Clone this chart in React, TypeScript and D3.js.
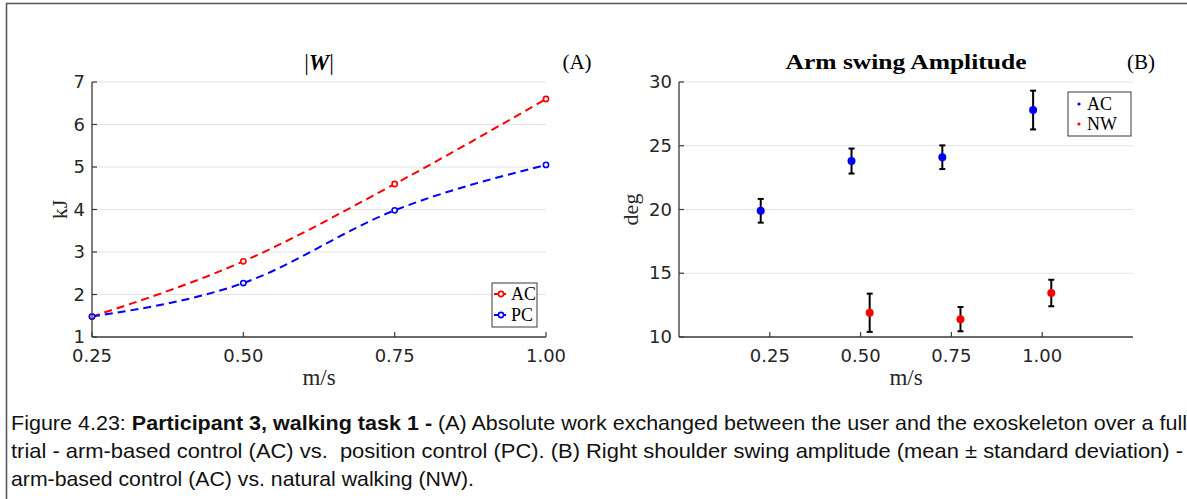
import React from "react";
import * as d3 from "d3";

// Walking speeds (m/s)
const speeds = [0.25, 0.5, 0.75, 1.0];
// Absolute work exchanged |W| (kJ)
const workAC = [1.48, 2.78, 4.6, 6.6];
const workPC = [1.48, 2.27, 3.98, 5.05];

// Arm swing amplitude (deg), mean and standard deviation
const swingACSpeeds = [0.25, 0.5, 0.75, 1.0];
const swingACMean = [19.9, 23.8, 24.1, 27.8];
const swingACSd = [0.93, 0.98, 0.93, 1.52];
const swingNWSpeeds = [0.5, 0.75, 1.0];
const swingNWMean = [11.9, 11.4, 13.45];
const swingNWSd = [1.5, 0.95, 1.04];

const workTicks = [1, 2, 3, 4, 5, 6, 7];
const swingTicks = [10, 15, 20, 25, 30];
const speedTickLabels = ["0.25", "0.50", "0.75", "1.00"];

const captionLines = [
  "trial - arm-based control (AC) vs.\u00a0 position control (PC). (B) Right shoulder swing amplitude (mean \u00b1 standard deviation) -",
  "arm-based control (AC) vs. natural walking (NW).",
];

const TICK_FONT = "DejaVu Sans, sans-serif";
const SERIF = "Liberation Serif, DejaVu Serif, serif";
const AXIS = "#3a3a3a";
const GRID = "#e3e3e3";
const TEXT = "#262626";

const top = 82;
const bottom = 337;

function WorkPanel() {
  const x = d3.scaleLinear().domain([0.25, 1.0]).range([92, 546]);
  const y = d3.scaleLinear().domain([1, 7]).range([bottom, top]);
  const line = d3
    .line<number>()
    .x((_, i) => x(speeds[i]))
    .y((d) => y(d))
    .curve(d3.curveMonotoneX);
  const series = [
    { name: "AC", values: workAC, color: "#ff0000" },
    { name: "PC", values: workPC, color: "#0000ff" },
  ];
  const [x0, x1] = x.range();
  return (
    <g>
      {workTicks.slice(1).map((t) => (
        <line key={t} x1={x0} x2={x1} y1={y(t)} y2={y(t)} stroke={GRID} strokeWidth={1} />
      ))}
      {series.map((s) => (
        <g key={s.name}>
          <path d={line(s.values) || ""} fill="none" stroke={s.color} strokeWidth={2} strokeDasharray="8,5" />
          {s.values.map((v, i) => (
            <circle key={i} cx={x(speeds[i])} cy={y(v)} r={2.6} fill="#fff" stroke={s.color} strokeWidth={1.6} />
          ))}
        </g>
      ))}
      <line x1={x0} x2={x0} y1={top} y2={bottom} stroke={AXIS} strokeWidth={1.3} />
      <line x1={x0} x2={x1} y1={bottom} y2={bottom} stroke={AXIS} strokeWidth={1.3} />
      {workTicks.map((t) => (
        <g key={t}>
          <line x1={x0} x2={x0 + 5} y1={y(t)} y2={y(t)} stroke={AXIS} strokeWidth={1.2} />
          <text x={x0 - 7} y={y(t) + 6} textAnchor="end" fontFamily={TICK_FONT} fontSize={18} fill={TEXT}>
            {t}
          </text>
        </g>
      ))}
      {speeds.map((s, i) => (
        <g key={s}>
          <line x1={x(s)} x2={x(s)} y1={bottom} y2={bottom - 5} stroke={AXIS} strokeWidth={1.2} />
          <text x={x(s)} y={bottom + 25} textAnchor="middle" fontFamily={TICK_FONT} fontSize={18} fill={TEXT}>
            {speedTickLabels[i]}
          </text>
        </g>
      ))}
      <text x={(x0 + x1) / 2} y={bottom + 48} textAnchor="middle" fontFamily={SERIF} fontSize={23} fill={TEXT}>
        m/s
      </text>
      <text
        transform={`translate(67,${(top + bottom) / 2}) rotate(-90)`}
        textAnchor="middle"
        fontFamily={SERIF}
        fontSize={22}
        fill={TEXT}
      >
        kJ
      </text>
      <text x={(x0 + x1) / 2} y={70} textAnchor="middle" fontFamily={SERIF} fontSize={23} fill="#000">
        |<tspan fontWeight="bold" fontStyle="italic">W</tspan>|
      </text>
      <text x={577} y={69} textAnchor="middle" fontFamily={SERIF} fontSize={21} fill="#000">
        (A)
      </text>
      {/* legend */}
      <rect x={492} y={283} width={45} height={44} fill="#fff" stroke="#3a3a3a" strokeWidth={1} />
      {series.map((s, i) => (
        <g key={s.name}>
          <line x1={494} x2={506} y1={294 + i * 21} y2={294 + i * 21} stroke={s.color} strokeWidth={2} />
          <circle cx={501} cy={294 + i * 21} r={2.6} fill="#fff" stroke={s.color} strokeWidth={1.6} />
          <text x={511} y={294 + i * 21 + 6} fontFamily={SERIF} fontSize={18} fill="#000">
            {s.name}
          </text>
        </g>
      ))}
    </g>
  );
}

function SwingPanel() {
  const x = d3.scaleLinear().domain([0, 1.25]).range([679, 1133]);
  const y = d3.scaleLinear().domain([10, 30]).range([bottom, top]);
  const [x0, x1] = x.range();
  const groups = [
    { name: "AC", sp: swingACSpeeds, mean: swingACMean, sd: swingACSd, color: "#0000ff", off: -0.025 },
    { name: "NW", sp: swingNWSpeeds, mean: swingNWMean, sd: swingNWSd, color: "#ff0000", off: 0.025 },
  ];
  return (
    <g>
      {swingTicks.slice(1).map((t) => (
        <line key={t} x1={x0} x2={x1} y1={y(t)} y2={y(t)} stroke={GRID} strokeWidth={1} />
      ))}
      {groups.map((g) => (
        <g key={g.name}>
          {g.mean.map((m, i) => {
            const cx = x(g.sp[i] + g.off);
            return (
              <g key={i}>
                <line x1={cx} x2={cx} y1={y(m - g.sd[i])} y2={y(m + g.sd[i])} stroke="#000" strokeWidth={2} />
                <line x1={cx - 3} x2={cx + 3} y1={y(m - g.sd[i])} y2={y(m - g.sd[i])} stroke="#000" strokeWidth={2} />
                <line x1={cx - 3} x2={cx + 3} y1={y(m + g.sd[i])} y2={y(m + g.sd[i])} stroke="#000" strokeWidth={2} />
                <circle cx={cx} cy={y(m)} r={4} fill={g.color} />
              </g>
            );
          })}
        </g>
      ))}
      <line x1={x0} x2={x0} y1={top} y2={bottom} stroke={AXIS} strokeWidth={1.3} />
      <line x1={x0} x2={x1} y1={bottom} y2={bottom} stroke={AXIS} strokeWidth={1.3} />
      {swingTicks.map((t) => (
        <g key={t}>
          <line x1={x0} x2={x0 + 5} y1={y(t)} y2={y(t)} stroke={AXIS} strokeWidth={1.2} />
          <text x={x0 - 7} y={y(t) + 6} textAnchor="end" fontFamily={TICK_FONT} fontSize={18} fill={TEXT}>
            {t}
          </text>
        </g>
      ))}
      {speeds.map((s, i) => (
        <g key={s}>
          <line x1={x(s)} x2={x(s)} y1={bottom} y2={bottom - 5} stroke={AXIS} strokeWidth={1.2} />
          <text x={x(s)} y={bottom + 25} textAnchor="middle" fontFamily={TICK_FONT} fontSize={18} fill={TEXT}>
            {speedTickLabels[i]}
          </text>
        </g>
      ))}
      <text x={(x0 + x1) / 2} y={bottom + 48} textAnchor="middle" fontFamily={SERIF} fontSize={23} fill={TEXT}>
        m/s
      </text>
      <text
        transform={`translate(638,${(top + bottom) / 2}) rotate(-90)`}
        textAnchor="middle"
        fontFamily={SERIF}
        fontSize={22}
        fill={TEXT}
      >
        deg
      </text>
      <text
        x={(x0 + x1) / 2}
        y={69}
        textAnchor="middle"
        fontFamily={SERIF}
        fontSize={21}
        fontWeight="bold"
        fill="#000"
        textLength={241}
        lengthAdjust="spacingAndGlyphs"
      >
        Arm swing Amplitude
      </text>
      <text x={1141} y={69} textAnchor="middle" fontFamily={SERIF} fontSize={21} fill="#000">
        (B)
      </text>
      {/* legend */}
      <rect x={1068} y={92} width={63} height={44} fill="#fff" stroke="#3a3a3a" strokeWidth={1} />
      {groups.map((g, i) => (
        <g key={g.name}>
          <circle cx={1079} cy={104 + i * 20} r={1.6} fill={g.color} />
          <text x={1087} y={104 + i * 20 + 6} fontFamily={SERIF} fontSize={18} fill="#000">
            {g.name}
          </text>
        </g>
      ))}
    </g>
  );
}

export default function App() {
  return (
    <>
      <style>{`body{margin:0}`}</style>
      <svg width={1187} height={499} style={{ display: "block", background: "#fff" }}>
        <rect x={0} y={0} width={1187} height={499} fill="#fff" />
        {/* page frame */}
        <line x1={6} x2={1187} y1={3.5} y2={3.5} stroke="#555" strokeWidth={1.5} />
        <line x1={6.5} x2={6.5} y1={3} y2={499} stroke="#555" strokeWidth={1.5} />
        <WorkPanel />
        <SwingPanel />
        <g fontFamily="Liberation Sans, Arial, sans-serif" fontSize={21} fill="#111">
          <text x={11} y={430} textLength={1176} lengthAdjust="spacingAndGlyphs">
            Figure 4.23: <tspan fontWeight="bold">Participant 3, walking task 1 -</tspan> (A) Absolute work exchanged between the user and the exoskeleton over a full
          </text>
          <text x={11} y={458} textLength={1172} lengthAdjust="spacingAndGlyphs">
            {captionLines[0]}
          </text>
          <text x={11} y={486} textLength={463} lengthAdjust="spacingAndGlyphs">
            {captionLines[1]}
          </text>
        </g>
      </svg>
    </>
  );
}
